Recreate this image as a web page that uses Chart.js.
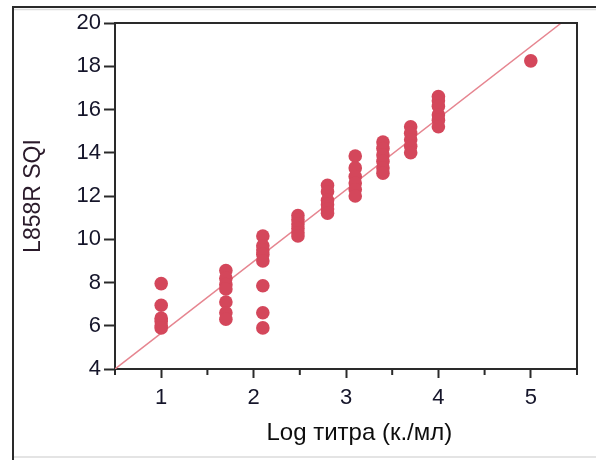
<!DOCTYPE html>
<html>
<head>
<meta charset="utf-8">
<script src="https://cdn.jsdelivr.net/npm/chart.js@4"></script>
<style>
  html, body { margin: 0; padding: 0; background: #fff; }
  #wrap { width: 596px; height: 460px; }
</style>
</head>
<body>
<div id="wrap"><canvas id="sqi-chart" width="596" height="460"></canvas></div>
<script>
// log titre levels (x) and the SQI values measured at each level
const logTitre = [1, 1.7, 2.1, 2.48, 2.8, 3.1, 3.4, 3.7, 4.0, 5.0];
const sqi_1 = [7.95, 6.95, 6.35, 6.2, 6.0, 5.9];
const sqi_17 = [8.55, 8.2, 7.9, 7.7, 7.1, 6.6, 6.3];
const sqi_21 = [10.15, 9.7, 9.5, 9.3, 9.0, 7.85, 6.6, 5.9];
const sqi_248 = [11.1, 10.9, 10.7, 10.5, 10.3, 10.15];
const sqi_28 = [12.5, 12.2, 11.8, 11.6, 11.4, 11.2];
const sqi_31 = [13.85, 13.3, 12.9, 12.6, 12.3, 12.0];
const sqi_34 = [14.5, 14.2, 13.9, 13.6, 13.3, 13.05];
const sqi_37 = [15.2, 14.9, 14.6, 14.3, 14.0];
const sqi_40 = [16.6, 16.4, 16.15, 15.75, 15.5, 15.2];
const sqi_50 = [18.25];
const sqiByLevel = [sqi_1, sqi_17, sqi_21, sqi_248, sqi_28, sqi_31, sqi_34, sqi_37, sqi_40, sqi_50];

// fitted line at its two ends
const fitX = [0.5, 5.33];
const fitY = [4, 20];

const yTicks = [4, 6, 8, 10, 12, 14, 16, 18, 20];

const points = [];
logTitre.forEach((x, i) => {
  sqiByLevel[i].forEach(y => points.push({ x: x, y: y }));
});
const fitPoints = fitX.map((x, i) => ({ x: x, y: fitY[i] }));

const tickFont = { family: 'Liberation Sans, Arial', size: 22 };
const titleFont = { family: 'Liberation Sans, Arial', size: 23 };

// outer panel border + the box round the plot + short minor ticks
const framePlugin = {
  id: 'frame',
  beforeDraw(chart) {
    const ctx = chart.ctx;
    ctx.save();
    ctx.strokeStyle = '#dcdcdc';
    ctx.lineWidth = 1.5;
    ctx.beginPath();
    ctx.moveTo(14, 9.5); ctx.lineTo(chart.width, 9.5);
    ctx.moveTo(14, 457); ctx.lineTo(chart.width, 457);
    ctx.stroke();
    ctx.strokeStyle = '#2a2a2a';
    ctx.lineWidth = 2;
    ctx.beginPath();
    ctx.moveTo(13, chart.height); ctx.lineTo(13, 7); ctx.lineTo(chart.width, 7);
    ctx.stroke();
    ctx.restore();
  },
  afterDraw(chart) {
    const ctx = chart.ctx;
    const a = chart.chartArea;
    const xs = chart.scales.x;
    ctx.save();
    ctx.strokeStyle = '#2a2a2a';
    ctx.lineWidth = 2;
    ctx.beginPath();
    ctx.moveTo(a.left, a.top); ctx.lineTo(a.right, a.top); ctx.lineTo(a.right, a.bottom);
    xs.ticks.forEach(t => {
      if (!Number.isInteger(t.value)) {
        const px = xs.getPixelForValue(t.value);
        ctx.moveTo(px, a.bottom); ctx.lineTo(px, a.bottom + 6);
      }
    });
    ctx.stroke();
    ctx.restore();
  }
};

new Chart(document.getElementById('sqi-chart'), {
  type: 'scatter',
  data: {
    datasets: [{
      type: 'line',
      data: fitPoints,
      borderColor: '#e68590',
      borderWidth: 1.5,
      pointRadius: 0,
      fill: false,
      order: 2
    }, {
      data: points,
      backgroundColor: '#d4475b',
      borderWidth: 0,
      pointRadius: 6.8,
      order: 1
    }]
  },
  options: {
    responsive: false,
    animation: false,
    layout: { padding: { left: 0, top: 23, right: 19, bottom: 0 } },
    plugins: { legend: { display: false }, tooltip: { enabled: false } },
    scales: {
      x: {
        type: 'linear',
        min: 0.5,
        max: 5.5,
        afterFit: s => { s.height = 91; },
        border: { color: '#2a2a2a', width: 2 },
        grid: {
          drawOnChartArea: false,
          tickLength: 9,
          tickWidth: 2,
          tickColor: c => Number.isInteger(c.tick.value) ? '#2a2a2a' : 'rgba(0,0,0,0)'
        },
        ticks: {
          stepSize: 0.5,
          autoSkip: false,
          maxRotation: 0,
          padding: 7,
          color: '#15152a',
          font: tickFont,
          callback: v => Number.isInteger(v) ? String(v) : ''
        },
        title: {
          display: true,
          text: '    Log титра (к./мл)',
          color: '#0d0d0d',
          font: { family: 'Liberation Sans, Arial', size: 24 },
          padding: { top: 0, bottom: 12 }
        }
      },
      y: {
        type: 'linear',
        min: 4,
        max: 20,
        afterFit: s => { s.width = 115; },
        afterBuildTicks: s => { s.ticks = yTicks.map(v => ({ value: v })); },
        border: { color: '#2a2a2a', width: 2 },
        grid: {
          drawOnChartArea: false,
          tickLength: 11,
          tickWidth: 2,
          tickColor: '#2a2a2a'
        },
        ticks: {
          padding: 3,
          color: '#15152a',
          font: tickFont
        },
        title: {
          display: true,
          text: 'L858R SQI',
          color: '#2a1a2a',
          font: titleFont,
          padding: { top: 20, bottom: 0 }
        }
      }
    }
  },
  plugins: [framePlugin]
});
</script>
</body>
</html>
